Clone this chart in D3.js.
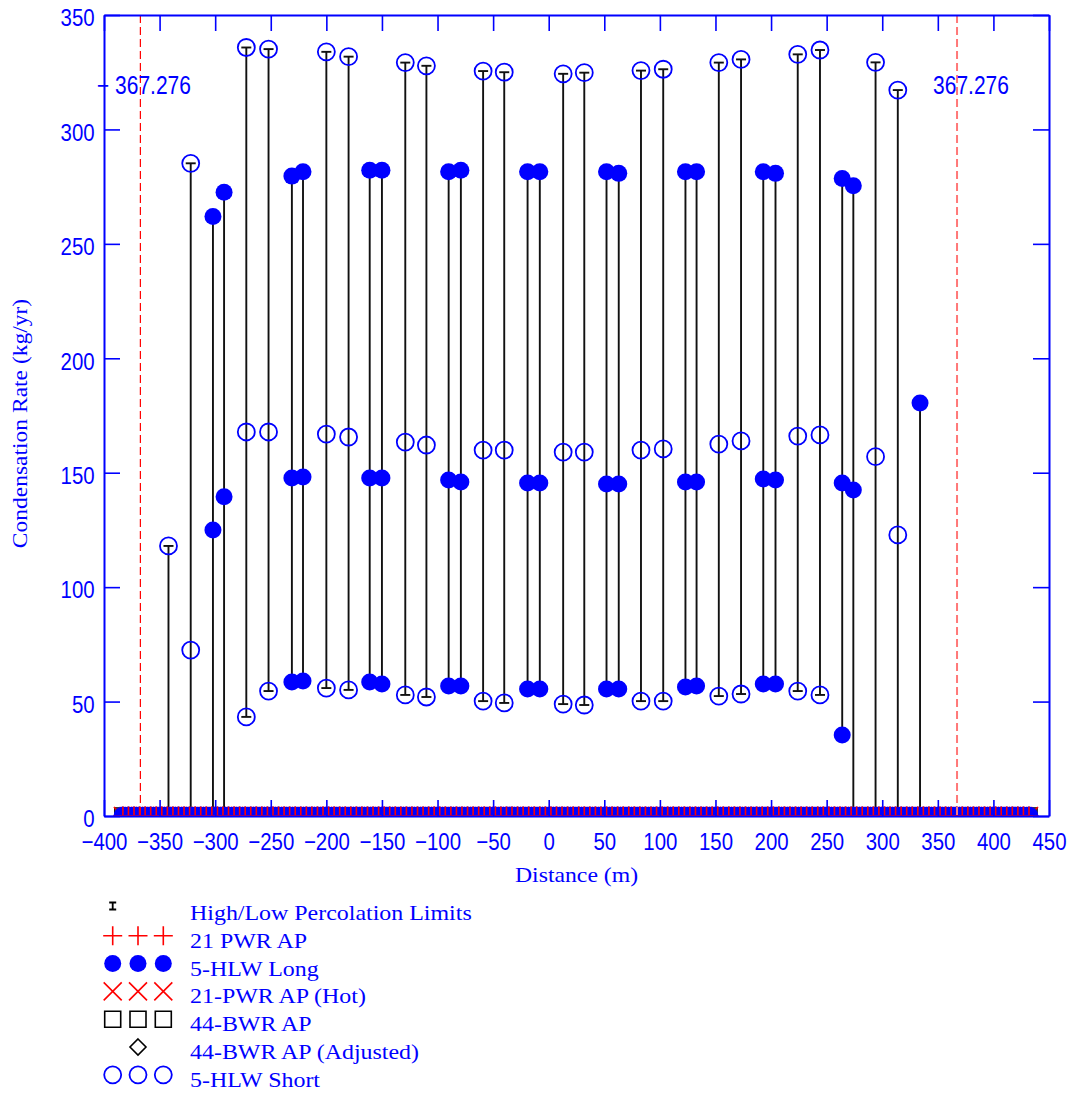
<!DOCTYPE html>
<html>
<head>
<meta charset="utf-8">
<script src="https://cdn.jsdelivr.net/npm/d3@7"></script>
<style>
body { margin: 0; background: #fff; }
</style>
</head>
<body>
<div class="container"></div>
<script>
const width = 1078;
const height = 1095;

// axis ticks
const xTickValues = [-400, -350, -300, -250, -200, -150, -100, -50, 0, 50, 100, 150, 200, 250, 300, 350, 400, 450];
const yTickValues = [0, 50, 100, 150, 200, 250, 300, 350];

// 5-HLW Short (open circles): up to three values per location
const shortDist = [-342, -322, -272, -252, -200, -180, -129, -110, -59, -40, 13, 32, 83, 103, 153, 173, 224, 244, 294, 314];
const shortHigh = [118, 285.2, 335.8, 335.1, 333.9, 331.8, 329.2, 327.8, 325.5, 325.0, 324.3, 324.8, 325.7, 326.3, 329.2, 330.6, 332.8, 334.7, 329.3, 317.2];
const shortMid  = [null, 72.5, 167.8, 167.8, 166.9, 165.6, 163.4, 162.1, 159.9, 159.9, 159.0, 159.0, 159.9, 160.4, 162.5, 163.9, 166.0, 166.5, 157.0, 122.8];
const shortLow  = [null, null, 43.3, 54.6, 55.9, 55.1, 52.9, 52.0, 50.2, 49.4, 48.9, 48.5, 50.2, 50.2, 52.4, 53.3, 54.6, 52.9, null, null];

// 5-HLW Long (filled circles)
const longDist = [-302, -292, -231, -221, -161, -150, -90, -79, -19, -8, 52, 63, 123, 133, 193, 204, 264, 274, 334];
const longHigh = [262.0, 272.5, 279.6, 281.5, 282.2, 282.2, 281.5, 282.2, 281.5, 281.5, 281.5, 280.8, 281.5, 281.5, 281.5, 280.8, 278.6, 275.4, 180.5];
const longMid  = [125.0, 139.5, 147.7, 148.1, 147.7, 147.7, 146.8, 145.9, 145.5, 145.5, 145.1, 145.1, 145.9, 145.9, 147.3, 146.8, 145.5, 142.4, null];
const longLow  = [null, null, 58.6, 59.0, 58.6, 57.7, 56.8, 56.8, 55.5, 55.5, 55.5, 55.5, 56.4, 56.8, 57.7, 57.7, 35.4, null, null];

// High/Low percolation limits
const percDist = [-342, -322, -302, -292, -272, -252, -231, -221, -200, -180, -161, -150, -129, -110, -90, -79, -59, -40, -19, -8, 13, 32, 52, 63, 83, 103, 123, 133, 153, 173, 193, 204, 224, 244, 264, 274, 294, 314, 334];
const percLow  = [0, 0, 0, 0, 43.3, 54.6, 58.6, 59.0, 55.9, 55.1, 58.6, 57.7, 52.9, 52.0, 56.8, 56.8, 50.2, 49.4, 55.5, 55.5, 48.9, 48.5, 55.5, 55.5, 50.2, 50.2, 56.4, 56.8, 52.4, 53.3, 57.7, 57.7, 54.6, 52.9, 35.4, 0, 0, 0, 0];
const percHigh = [118, 285.2, 262.0, 272.5, 335.8, 335.1, 279.6, 281.5, 333.9, 331.8, 282.2, 282.2, 329.2, 327.8, 281.5, 282.2, 325.5, 325.0, 281.5, 281.5, 324.3, 324.8, 281.5, 280.8, 325.7, 326.3, 281.5, 281.5, 329.2, 330.6, 281.5, 280.8, 332.8, 334.7, 278.6, 275.4, 329.3, 317.2, 180.5];

// locations where all series sit at zero
const baseDist = [
  -383, -378, -373, -368, -363, -358, -353, -348, -343, -338, -333, -328, -323, -318, -313, -308, -303, -298, -293, -288,
  -283, -278, -273, -268, -263, -258, -253, -248, -243, -238, -233, -228, -223, -218, -213, -208, -203, -198, -193, -188,
  -183, -178, -173, -168, -163, -158, -153, -148, -143, -138, -133, -128, -123, -118, -113, -108, -103, -98, -93, -88,
  -83, -78, -73, -68, -63, -58, -53, -48, -43, -38, -33, -28, -23, -18, -13, -8, -3, 2, 7, 12,
  17, 22, 27, 32, 37, 42, 47, 52, 57, 62, 67, 72, 77, 82, 87, 92, 97, 102, 107, 112,
  117, 122, 127, 132, 137, 142, 147, 152, 157, 162, 167, 172, 177, 182, 187, 192, 197, 202, 207, 212,
  217, 222, 227, 232, 237, 242, 247, 252, 257, 262, 267, 272, 277, 282, 287, 292, 297, 302, 307, 312,
  317, 322, 327, 332, 337, 342, 347, 352, 357, 362, 367, 372, 377, 382, 387, 392, 397, 402, 407, 412,
  417, 422, 427, 432
];
const baseRate = 0;

// site boundary lines
const limitDist = [-367.276, 367.276];
const limitColor = ["#ff0000", "#ff7878"];
const limitWidth = [1.2, 2];

const legendLabels = ["High/Low Percolation Limits", "21 PWR AP", "5-HLW Long", "21-PWR AP (Hot)", "44-BWR AP", "44-BWR AP (Adjusted)", "5-HLW Short"];

const BLUE = "#0000ff";

const svg = d3.select("div.container")
    .append("svg")
    .attr("width", width)
    .attr("height", height);

const x = d3.scaleLinear().domain([-400, 450]).range([104, 1049]);
const y = d3.scaleLinear().domain([0, 350]).range([816, 15]);

svg.append("defs").append("clipPath").attr("id", "plot")
    .append("rect")
    .attr("x", x(-400)).attr("y", y(350))
    .attr("width", x(450) - x(-400)).attr("height", y(0) - y(350));

// marker shapes
function plusPath(s) { return `M${-s},0H${s}M0,${-s}V${s}`; }
function crossPath(s) { return `M${-s},${-s}L${s},${s}M${-s},${s}L${s},${-s}`; }
function squarePath(s) { return `M${-s},${-s}H${s}V${s}H${-s}Z`; }
function diamondPath(s) { return `M0,${-s}L${s},0L0,${s}L${-s},0Z`; }

function drawMarker(g, kind, cx, cy) {
    if (kind === "plus") {
        g.append("path").attr("transform", `translate(${cx},${cy})`).attr("d", plusPath(9.5))
            .attr("stroke", "#ff0000").attr("stroke-width", 1.6).attr("fill", "none");
    } else if (kind === "cross") {
        g.append("path").attr("transform", `translate(${cx},${cy})`).attr("d", crossPath(9))
            .attr("stroke", "#ff0000").attr("stroke-width", 1.6).attr("fill", "none");
    } else if (kind === "square") {
        g.append("path").attr("transform", `translate(${cx},${cy})`).attr("d", squarePath(8))
            .attr("stroke", "#000").attr("stroke-width", 1.6).attr("fill", "none");
    } else if (kind === "diamond") {
        g.append("path").attr("transform", `translate(${cx},${cy})`).attr("d", diamondPath(8))
            .attr("stroke", "#000").attr("stroke-width", 1.6).attr("fill", "none");
    } else if (kind === "filled") {
        g.append("circle").attr("cx", cx).attr("cy", cy).attr("r", 8.5).attr("fill", BLUE);
    } else if (kind === "open") {
        g.append("circle").attr("cx", cx).attr("cy", cy).attr("r", 8.5)
            .attr("fill", "none").attr("stroke", BLUE).attr("stroke-width", 1.8);
    }
}

const plot = svg.append("g").attr("clip-path", "url(#plot)");

// percolation limit bars
const bars = plot.append("g").attr("stroke", "#111").attr("stroke-width", 1.9);
percDist.forEach(function(d, i) {
    bars.append("line")
        .attr("x1", x(d)).attr("x2", x(d))
        .attr("y1", y(percLow[i])).attr("y2", y(percHigh[i]));
    [percLow[i], percHigh[i]].forEach(function(v) {
        bars.append("line")
            .attr("x1", x(d) - 5).attr("x2", x(d) + 5)
            .attr("y1", y(v)).attr("y2", y(v));
    });
});

// zero band
const band = plot.append("g");
["square", "diamond", "cross", "filled", "open", "plus"].forEach(function(kind) {
    baseDist.forEach(function(d) { drawMarker(band, kind, x(d), y(baseRate)); });
});

// 5-HLW Long
const longG = plot.append("g");
longDist.forEach(function(d, i) {
    [longHigh[i], longMid[i], longLow[i]].forEach(function(v) {
        if (v !== null) drawMarker(longG, "filled", x(d), y(v));
    });
});

// 5-HLW Short
const shortG = plot.append("g");
shortDist.forEach(function(d, i) {
    [shortHigh[i], shortMid[i], shortLow[i]].forEach(function(v) {
        if (v !== null) drawMarker(shortG, "open", x(d), y(v));
    });
});

// boundary lines
limitDist.forEach(function(d, i) {
    plot.append("line")
        .attr("x1", x(d)).attr("x2", x(d))
        .attr("y1", y(350)).attr("y2", y(0))
        .attr("stroke", limitColor[i]).attr("stroke-width", limitWidth[i])
        .attr("stroke-dasharray", "8,4");
});

const sansFont = "'Liberation Sans', Arial, sans-serif";
const serifFont = "'Liberation Serif', 'Times New Roman', serif";

svg.append("text")
    .attr("transform", `translate(${x(-400) - 7},94) scale(0.84,1)`)
    .attr("font-family", sansFont).attr("font-size", 25).attr("fill", BLUE)
    .text("\u2212 367.276");
svg.append("text")
    .attr("transform", `translate(${x(limitDist[1]) - 24},94) scale(0.84,1)`)
    .attr("font-family", sansFont).attr("font-size", 25).attr("fill", BLUE)
    .text("367.276");

// axes
function styleAxis(g) {
    g.attr("color", BLUE);
    g.select(".domain").attr("stroke-width", 2);
    g.selectAll(".tick line").attr("stroke-width", 1.6);
    g.selectAll(".tick text")
        .attr("font-family", sansFont).attr("font-size", 24)
        .attr("transform", "scale(0.85,1)");
}

svg.append("g").attr("transform", `translate(0,${y(0)})`)
    .call(d3.axisBottom(x).tickValues(xTickValues).tickSizeInner(-16).tickSizeOuter(0).tickPadding(17))
    .call(styleAxis);
svg.append("g").attr("transform", `translate(0,${y(350)})`)
    .call(d3.axisTop(x).tickValues(xTickValues).tickSizeInner(-16).tickSizeOuter(0).tickFormat(""))
    .call(styleAxis);
const leftAxis = svg.append("g").attr("transform", `translate(${x(-400)},0)`)
    .call(d3.axisLeft(y).tickValues(yTickValues).tickSizeInner(-16).tickSizeOuter(0).tickPadding(11))
    .call(styleAxis);
leftAxis.selectAll(".tick text").attr("dy", "0.45em");
svg.append("g").attr("transform", `translate(${x(450)},0)`)
    .call(d3.axisRight(y).tickValues(yTickValues).tickSizeInner(-16).tickSizeOuter(0).tickFormat(""))
    .call(styleAxis);

// axis titles
svg.append("text")
    .attr("transform", `translate(${(x(-400) + x(450)) / 2},882) scale(1.13,1)`)
    .attr("text-anchor", "middle")
    .attr("font-family", serifFont).attr("font-size", 21).attr("fill", BLUE)
    .text("Distance (m)");
svg.append("text")
    .attr("transform", `translate(27,${(y(0) + y(350)) / 2 + 8}) rotate(-90) scale(1.12,1)`)
    .attr("text-anchor", "middle")
    .attr("font-family", serifFont).attr("font-size", 21).attr("fill", BLUE)
    .text("Condensation Rate (kg/yr)");

// legend
const legend = svg.append("g");
const legendKinds = ["bar", "plus", "filled", "cross", "square", "diamond", "open"];
const legendCols = [112.7, 138, 163.3];
legendLabels.forEach(function(label, i) {
    const base = 920 + i * 27.8;
    const cy = base - 12;
    const kind = legendKinds[i];
    if (kind === "bar") {
        const bx = legendCols[0], by = base - 14;
        legend.append("path")
            .attr("d", `M${bx - 3.5},${by - 3.5}H${bx + 3.5}M${bx},${by - 3.5}V${by + 3.5}M${bx - 3.5},${by + 3.5}H${bx + 3.5}`)
            .attr("stroke", "#000").attr("stroke-width", 1.8).attr("fill", "none");
    } else if (kind === "diamond") {
        drawMarker(legend, kind, legendCols[1], cy);
    } else {
        legendCols.forEach(function(cx) { drawMarker(legend, kind, cx, cy); });
    }
    legend.append("text")
        .attr("transform", `translate(190,${base}) scale(1.14,1)`)
        .attr("font-family", serifFont).attr("font-size", 21).attr("fill", BLUE)
        .text(label);
});
</script>
</body>
</html>
